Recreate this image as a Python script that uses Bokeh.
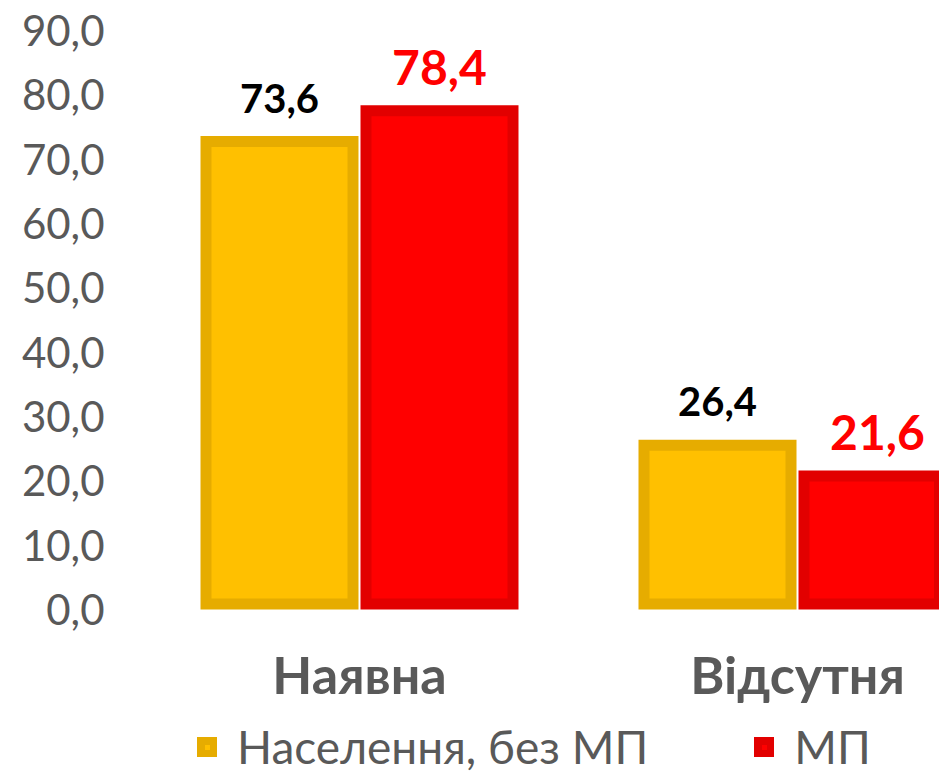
import numpy as np
from bokeh.plotting import figure
from bokeh.models import (ColumnDataSource, Range1d, FixedTicker, Legend, LegendItem,
                          CustomJSTickFormatter)
from bokeh.core.properties import value
from bokeh.embed import file_html
from bokeh.resources import INLINE

# ---- data ----
categories = ["Наявна", "Відсутня"]
series_names = ["Населення, без МП", "МП"]
no_mp = [73.6, 26.4]
mp = [78.4, 21.6]
y_ticks = [0, 10, 20, 30, 40, 50, 60, 70, 80, 90]

# ---- style / layout ----
FONT = "Lato"
GRAY = "#595959"
YELLOW_FILL, YELLOW_LINE = "#FFC000", "#E6AC00"
RED_FILL, RED_LINE = "#FF0000", "#E20000"
W, H = 939, 774
TOP, LEFT = 30, 125
ZERO_Y = 609                 # canvas y of value 0
BW = 11                      # bar border width (px)
PX_X = 438                   # px per category unit
BAR_OUT = 158                # outer bar width px
DODGE = 80                   # px offset of bar centres from category centre

y_max = 90
px_y = (ZERO_Y - TOP) / y_max
y_start = -(H - ZERO_Y) / px_y
frame_w = W - LEFT
x_start = -234 / PX_X
x_end = x_start + frame_w / PX_X
inset_y = (BW / 2) / px_y
bar_w = (BAR_OUT - BW) / PX_X
off = DODGE / PX_X

p = figure(width=W, height=H, output_backend="svg", toolbar_location=None,
           x_range=Range1d(x_start, x_end), y_range=Range1d(y_start, y_max),
           min_border_top=TOP, min_border_bottom=0, min_border_left=LEFT,
           min_border_right=0, background_fill_color="white", border_fill_color="white")
p.outline_line_color = None
p.grid.visible = False
p.xaxis.visible = False

idx = np.arange(len(categories))


def fmt(v):
    return f"{v:.1f}".replace(".", ",")


renderers = []
for vals, sign, fill, line, tcol, tsize in [
        (no_mp, -1, YELLOW_FILL, YELLOW_LINE, "#000000", "40px"),
        (mp, 1, RED_FILL, RED_LINE, "#FF0000", "48px")]:
    vals = np.array(vals)
    src = ColumnDataSource(dict(
        x=idx + sign * off,
        val=vals,
        top=vals - inset_y,
        bottom=np.full(len(vals), inset_y),
        label=[fmt(v) for v in vals],
    ))
    r = p.vbar(x="x", width=bar_w, top="top", bottom="bottom", source=src,
               fill_color=fill, line_color=line, line_width=BW, line_join="miter")
    renderers.append(r)
    p.text(x="x", y="val", text="label", source=src, text_font=value(FONT),
           text_font_size=tsize, text_font_style="bold", text_color=tcol,
           text_align="center", text_baseline="alphabetic", y_offset=-38)

# category labels under the bars
cat_src = ColumnDataSource(dict(x=idx, y=np.zeros(len(idx)), text=categories))
p.text(x="x", y="y", text="text", source=cat_src, text_font=value(FONT),
       text_font_size="52px", text_font_style="bold", text_color=GRAY,
       text_align="center", text_baseline="middle", y_offset=64)

# y axis
p.yaxis.ticker = FixedTicker(ticks=y_ticks)
p.yaxis.formatter = CustomJSTickFormatter(code="return tick.toFixed(1).replace('.', ',');")
p.yaxis.major_label_text_font = FONT
p.yaxis.major_label_text_font_size = "42px"
p.yaxis.major_label_text_color = GRAY
p.yaxis.major_label_standoff = 15
p.yaxis.axis_line_color = None
p.yaxis.major_tick_line_color = None
p.yaxis.minor_tick_line_color = None

legend = Legend(items=[LegendItem(label=n, renderers=[r]) for n, r in zip(series_names, renderers)],
                location=(72, 0), orientation="horizontal",
                label_text_font=FONT, label_text_font_size="46px", label_text_color=GRAY,
                glyph_width=20, glyph_height=20, label_standoff=20, spacing=106,
                padding=0, margin=0, border_line_color=None, background_fill_alpha=0)
p.add_layout(legend)

open("out.html", "w").write(file_html(p, INLINE))
